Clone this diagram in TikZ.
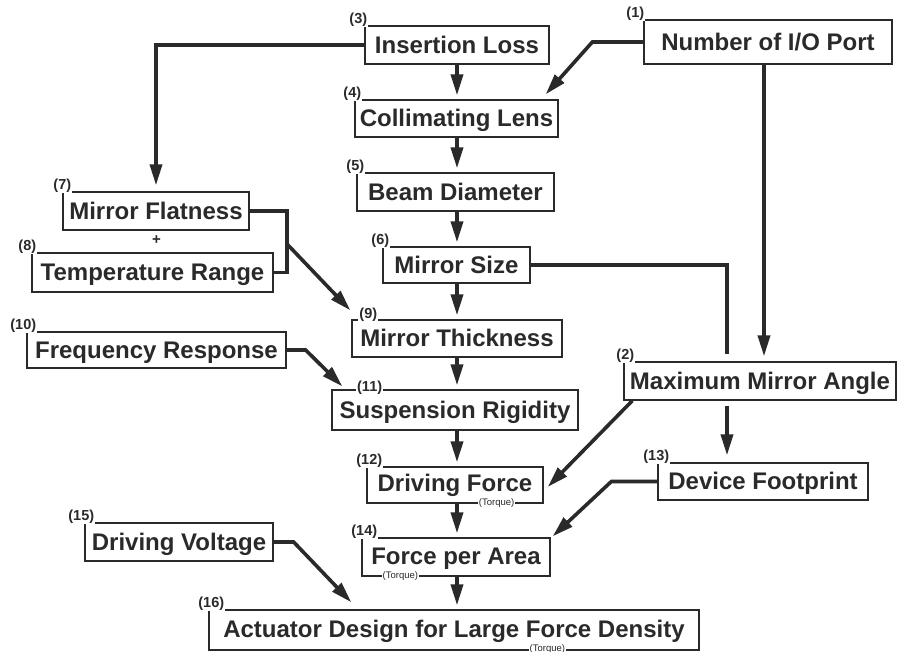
\documentclass[tikz,border=0pt]{standalone}
\usepackage{fontspec}
\setmainfont{Liberation Sans}
\usetikzlibrary{arrows.meta,calc}
\definecolor{ink}{HTML}{2A2A2A}
\tikzset{
  box/.style={draw=ink, line width=1.3pt, inner sep=0pt, text=ink,
    font=\fontsize{24}{24}\selectfont\bfseries, text height=17pt, text depth=0pt},
  num/.style={fill=white, inner sep=1pt, text=ink, anchor=south east,
    font=\fontsize{14.5}{14.5}\selectfont\bfseries},
  torq/.style={fill=white, inner sep=0.5pt, text=ink,
    font=\fontsize{9.5}{9.5}\selectfont},
  conn/.style={draw=ink, line width=3.6pt},
  arr/.style={conn, -{Triangle[length=21pt,width=12pt]}},
}
\begin{document}
\begin{tikzpicture}[x=1pt,y=-1pt]
\useasboundingbox[fill=white] (0,0) rectangle (898,652);
% boxes
\node[box, minimum width=248pt, minimum height=44pt] (n1) at (768,42) {Number of I/O Port};
\node[box, minimum width=272pt, minimum height=38pt] (n2) at (760,381) {Maximum Mirror Angle};
\node[box, minimum width=184pt, minimum height=38pt] (n3) at (457,45) {Insertion Loss};
\node[box, minimum width=203pt, minimum height=37pt] (n4) at (456.5,118.5) {Collimating Lens};
\node[box, minimum width=197pt, minimum height=38pt] (n5) at (455.5,192) {Beam Diameter};
\node[box, minimum width=147pt, minimum height=36pt] (n6) at (456.5,265) {Mirror Size};
\node[box, minimum width=186pt, minimum height=38pt] (n7) at (156,211) {Mirror Flatness};
\node[box, minimum width=241pt, minimum height=39pt] (n8) at (152.5,272.5) {Temperature Range};
\node[box, minimum width=210pt, minimum height=37pt] (n9) at (457,338.5) {Mirror Thickness};
\node[box, minimum width=259pt, minimum height=36pt] (n10) at (156.5,350) {Frequency Response};
\node[box, minimum width=246pt, minimum height=40pt] (n11) at (455,410) {Suspension Rigidity};
\node[box, minimum width=176pt, minimum height=36pt, text depth=4pt] (n12) at (455,485) {Driving Force};
\node[box, minimum width=210pt, minimum height=37pt] (n13) at (763,481.5) {Device Footprint};
\node[box, minimum width=188pt, minimum height=38pt, text depth=3pt] (n14) at (456,557) {Force per Area};
\node[box, minimum width=188pt, minimum height=38pt] (n15) at (179,542) {Driving Voltage};
\node[box, minimum width=490pt, minimum height=40pt, text depth=3pt] (n16) at (454,630) {Actuator Design for Large Force Density};
% number labels
\node[num] (l1) at ($(n1.north west)+(2,2)$) {(1)};
\node[num] (l2) at ($(n2.north west)+(12,2)$) {(2)};
\node[num] (l3) at ($(n3.north west)+(4,2)$) {(3)};
\node[num] (l4) at ($(n4.north west)+(8,2)$) {(4)};
\node[num] (l5) at ($(n5.north west)+(9,2)$) {(5)};
\node[num] (l6) at ($(n6.north west)+(8,2)$) {(6)};
\node[num] (l7) at ($(n7.north west)+(10,2)$) {(7)};
\node[num] (l8) at ($(n8.north west)+(6,2)$) {(8)};
\node[num] (l9) at ($(n9.north west)+(27,3)$) {(9)};
\node[num] (l10) at ($(n10.north west)+(11,2)$) {(10)};
\node[num] (l11) at ($(n11.north west)+(52,6)$) {(11)};
\node[num] (l12) at ($(n12.north west)+(17,2)$) {(12)};
\node[num] (l13) at ($(n13.north west)+(13,2)$) {(13)};
\node[num] (l14) at ($(n14.north west)+(17,2)$) {(14)};
\node[num] (l15) at ($(n15.north west)+(11,2)$) {(15)};
\node[num] (l16) at ($(n16.north west)+(17,2)$) {(16)};
% torque notes
\node[torq] (t12) at ($(n12.south east)+(-47,-1)$) {(Torque)};
\node[torq] (t14) at ($(n14.south west)+(39,-1)$) {(Torque)};
\node[torq] (t16) at ($(n16.south west)+(339,-2)$) {(Torque)};
% plus sign
\node[text=ink, font=\fontsize{15}{15}\selectfont\bfseries] (plus) at (156.5,240.5) {+};
% main column
\coordinate (colx) at (457,0);
\foreach \a/\b in {n3/n4,n4/n5,n5/n6,n6/n9,n9/n11,n11/n12,n12/n14,n14/n16}
  \draw[arr, shorten >=4pt] (\a.south -| colx) -- (\b.north -| colx);
% (3) -> (7)
\draw[arr, shorten >=6pt] (n3.west) -| (n7.north);
% (1) -> (4)
\draw[arr] (n1.west) -- ++(-51,0) -- ($(n4.north east)+(-13,-5)$);
% (1) -> (2)
\coordinate (v1) at (764,0);
\draw[arr, shorten >=5pt] (n1.south -| v1) -- (n2.north -| v1);
% (6) -> (2) -> (13)
\coordinate (v2) at (727,0);
\draw[conn] (n6.east) -| ($(n2.north -| v2)+(0,-7)$);
\draw[arr, shorten <=5pt, shorten >=7pt] (n2.south -| v2) -- (n13.north -| v2);
% (2) -> (12)
\draw[arr] ($(n2.south west)+(9,0)$) -- ($(n12.east)+(4,2)$);
% (13) -> (14)
\draw[arr] (n13.west) -- ++(-46,0) -- ($(n14.north east)+(2,-1)$);
% (7)+(8) -> (9)
\coordinate (j78) at (287,244);
\draw[conn] (n7.east) -| (j78) |- (n8.east);
\draw[arr] (j78) -- ($(n9.north west)+(-1,-9)$);
% (10) -> (11)
\draw[arr] (n10.east) -- ++(19,0) -- ($(n11.north west)+(11,-3)$);
% (15) -> (16)
\draw[arr] (n15.east) -- ++(20,0) -- ($(n16.north west)+(143,-7)$);
\end{tikzpicture}
\end{document}
